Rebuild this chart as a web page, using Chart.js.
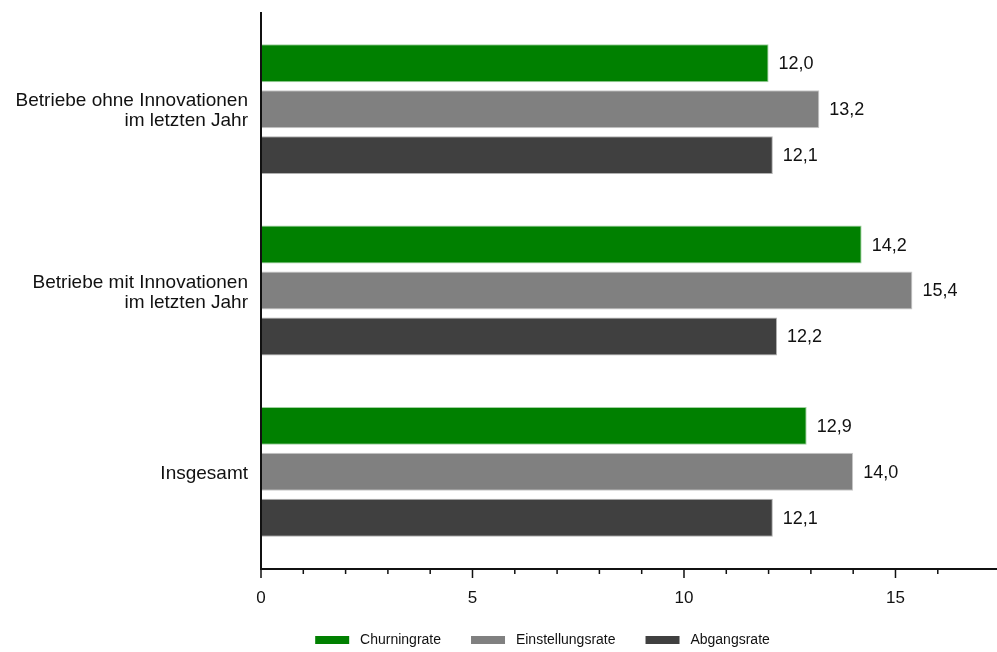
<!DOCTYPE html>
<html lang="de">
<head>
<meta charset="utf-8">
<script src="https://cdn.jsdelivr.net/npm/chart.js@4"></script>
<style>
  html, body { margin: 0; padding: 0; background: #fff; }
</style>
</head>
<body>
<canvas id="myChart" width="997" height="652"></canvas>
<script>
// Kategorien (y-Achse)
const categories = [
    ['Betriebe ohne Innovationen', 'im letzten Jahr'],
    ['Betriebe mit Innovationen', 'im letzten Jahr'],
    'Insgesamt',
];
const seriesNames = ['Churningrate', 'Einstellungsrate', 'Abgangsrate'];
const churningrate = [12.0, 14.2, 12.9];
const einstellungsrate = [13.2, 15.4, 14.0];
const abgangsrate = [12.1, 12.2, 12.1];
// x-Achse: 0 .. 17.4, Striche jede Einheit, Beschriftung alle 5
const xMax = 17.4;
const xStep = 1;
const xLabelEvery = 5;

const colors = ['#008000', '#808080', '#404040'];
const borders = ['#9fd09f', '#c8c8c8', '#b0b0b0'];
const axisGap = 6.5;

Chart.defaults.font.family = '"Liberation Sans", Arial, sans-serif';
Chart.defaults.color = '#111';

// Werte rechts neben den Balken
const valueLabels = {
    id: 'valueLabels',
    afterDatasetsDraw(chart) {
        const { ctx } = chart;
        ctx.save();
        ctx.font = '18px "Liberation Sans", Arial, sans-serif';
        ctx.fillStyle = '#111';
        ctx.textAlign = 'left';
        ctx.textBaseline = 'middle';
        chart.data.datasets.forEach((ds, i) => {
            chart.getDatasetMeta(i).data.forEach((bar, j) => {
                ctx.fillText(ds.data[j].toFixed(1).replace('.', ','), bar.x + 10, bar.y + 1);
            });
        });
        ctx.restore();
    },
};

// Achsenlinien + Striche, etwas über den Plotbereich hinaus
const axisLines = {
    id: 'axisLines',
    afterDraw(chart) {
        const { ctx, chartArea, scales } = chart;
        const x0 = scales.x.getPixelForValue(0);
        const yAxis = chartArea.bottom + axisGap;
        ctx.save();
        ctx.strokeStyle = '#111';
        ctx.lineWidth = 2;
        ctx.beginPath();
        ctx.moveTo(x0, chartArea.top - axisGap);
        ctx.lineTo(x0, yAxis);
        ctx.lineTo(chartArea.right, yAxis);
        ctx.stroke();
        ctx.lineWidth = 1.5;
        ctx.beginPath();
        scales.x.ticks.forEach((t) => {
            if (!Number.isInteger(t.value)) return;
            const px = scales.x.getPixelForValue(t.value);
            const len = t.value % xLabelEvery === 0 ? 9 : 5;
            ctx.moveTo(px, yAxis);
            ctx.lineTo(px, yAxis + len);
        });
        ctx.stroke();
        ctx.restore();
    },
};

// Legende etwas nach rechts schieben
const legendShift = {
    id: 'legendShift',
    afterLayout(chart) {
        const lg = chart.legend;
        lg.left += 44;
        lg.right += 44;
        lg.top -= 3;
        lg.bottom -= 3;
    },
};

const noScalePadding = (s) => {
    s.paddingTop = 0;
    s.paddingBottom = 0;
    s.paddingLeft = 0;
    s.paddingRight = 0;
};

const seriesData = [churningrate, einstellungsrate, abgangsrate];

new Chart(document.getElementById('myChart'), {
    type: 'bar',
    data: {
        labels: categories,
        datasets: seriesNames.map((name, i) => ({
            label: name,
            data: seriesData[i],
            backgroundColor: colors[i],
            borderColor: borders[i],
            borderWidth: 1,
            barPercentage: 0.826,
            categoryPercentage: 0.76,
        })),
    },
    options: {
        indexAxis: 'y',
        responsive: false,
        animation: false,
        layout: {
            padding: { top: 18.5, right: 0, bottom: 0, left: 0 },
        },
        scales: {
            x: {
                min: 0,
                max: xMax,
                grid: { display: false, drawTicks: false },
                border: { display: false },
                ticks: {
                    stepSize: xStep,
                    autoSkip: false,
                    maxRotation: 0,
                    padding: 26,
                    font: { size: 17 },
                    callback: (v) => (v % xLabelEvery === 0 ? v : ''),
                },
                afterFit(s) {
                    s.height = 43.5;
                    noScalePadding(s);
                },
            },
            y: {
                offset: true,
                grid: { display: false, drawTicks: false },
                border: { display: false },
                ticks: {
                    padding: 13,
                    labelOffset: 2,
                    font: { size: 19, lineHeight: 1.05 },
                },
                afterFit(s) {
                    s.width = 261;
                    noScalePadding(s);
                },
            },
        },
        plugins: {
            tooltip: { enabled: false },
            legend: {
                position: 'bottom',
                maxHeight: 46,
                labels: {
                    boxWidth: 34,
                    boxHeight: 8,
                    padding: 30,
                    font: { size: 14 },
                    generateLabels(chart) {
                        return Chart.defaults.plugins.legend.labels
                            .generateLabels(chart)
                            .map((l) => ({ ...l, text: ' ' + l.text, lineWidth: 0 }));
                    },
                },
            },
        },
    },
    plugins: [valueLabels, axisLines, legendShift],
});
</script>
</body>
</html>
